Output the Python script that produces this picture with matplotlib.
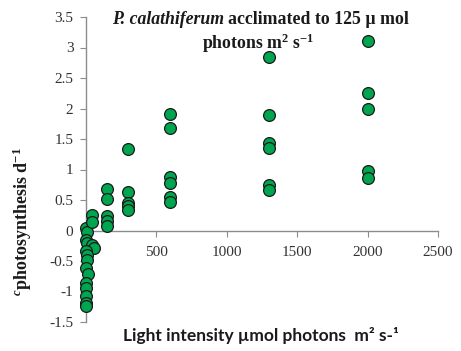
import matplotlib
matplotlib.use("Agg")
import matplotlib.pyplot as plt

plt.rcParams["mathtext.fontset"] = "custom"
plt.rcParams["mathtext.rm"] = "Liberation Serif:bold"
plt.rcParams["mathtext.bf"] = "Liberation Serif:bold"
plt.rcParams["mathtext.it"] = "Liberation Serif:bold:italic"

# Data
light_intensity = [0, 10, 0, 10, 45, 55, 0, 5, 10, 0, 15, 0, 0, 0, 0, 0,
                   45, 45,
                   150, 150, 150, 150, 150,
                   300, 300, 300, 300, 300,
                   600, 600, 600, 600, 600, 600,
                   1300, 1300, 1300, 1300, 1300, 1300,
                   2000, 2000, 2000, 2000, 2000]
photosynthesis = [0.04, -0.03, -0.15, -0.21, -0.23, -0.29, -0.34, -0.40, -0.48, -0.62, -0.72, -0.86, -0.94, -1.08, -1.19, -1.24,
                  0.25, 0.14,
                  0.68, 0.52, 0.23, 0.15, 0.08,
                  1.34, 0.63, 0.45, 0.40, 0.33,
                  1.91, 1.68, 0.88, 0.78, 0.55, 0.46,
                  2.84, 1.89, 1.43, 1.35, 0.75, 0.67,
                  3.10, 2.25, 1.99, 0.97, 0.86]
x_ticks = [500, 1000, 1500, 2000, 2500]
y_ticks = [-1.5, -1, -0.5, 0, 0.5, 1, 1.5, 2, 2.5, 3, 3.5]

W, H = 461, 351
fig = plt.figure(figsize=(W / 100, H / 100), dpi=100)
ax = fig.add_axes([86 / W, 29 / H, 352 / W, 305 / H])

ax.scatter(light_intensity, photosynthesis, s=72, color="#00A550",
           edgecolors="#1a1a1a", linewidths=0.9, zorder=3, clip_on=False)

ax.set_xlim(0, 2500)
ax.set_ylim(-1.5, 3.5)
ax.spines["top"].set_visible(False)
ax.spines["right"].set_visible(False)
ax.spines["bottom"].set_position(("data", 0))
for s in ("left", "bottom"):
    ax.spines[s].set_color("#8c8c8c")
    ax.spines[s].set_linewidth(1.0)

ax.set_xticks(x_ticks)
ax.set_xticklabels([str(t) for t in x_ticks])
ax.set_yticks(y_ticks)
ax.set_yticklabels(["%g" % t for t in y_ticks])
ax.tick_params(axis="both", direction="out", length=4, color="#8c8c8c",
               labelcolor="#333333", labelsize=11)
for lab in ax.get_xticklabels() + ax.get_yticklabels():
    lab.set_family("Liberation Serif")
ax.tick_params(axis="x", pad=7)
ax.tick_params(axis="y", pad=5)

# Title (two lines, mixed italic)
fig.canvas.draw()
r = fig.canvas.get_renderer()
t1 = fig.text(112 / W, 1 - 19 / H, "P. calathiferum", family="Liberation Serif",
              style="italic", weight="bold", fontsize=12.8, va="center", ha="left",
              color="#1a1a1a")
bb = t1.get_window_extent(r)
fig.text(bb.x1 / W + 4 / W, 1 - 19 / H, "acclimated to 125 µ mol",
         family="Liberation Serif", weight="bold", fontsize=12.8, va="center",
         ha="left", color="#1a1a1a")
fig.text(258 / W, 1 - 43 / H, r"photons m$^{2}$ s$^{-1}$", family="Liberation Serif",
         weight="bold", fontsize=12.8, va="center", ha="center", color="#1a1a1a")

# Axis labels
fig.text(22 / W, 1 - 222 / H, r"$^{c}$photosynthesis d$^{-1}$", family="Liberation Serif",
         weight="bold", fontsize=13, rotation=90, va="center", ha="center",
         color="#1a1a1a")
fig.text(261 / W, 1 - 335 / H, "Light intensity µmol photons  m² s-¹", family="Lato",
         weight="bold", fontsize=12.5, va="center", ha="center", color="#1a1a1a")

fig.savefig("out.png", dpi=100)
